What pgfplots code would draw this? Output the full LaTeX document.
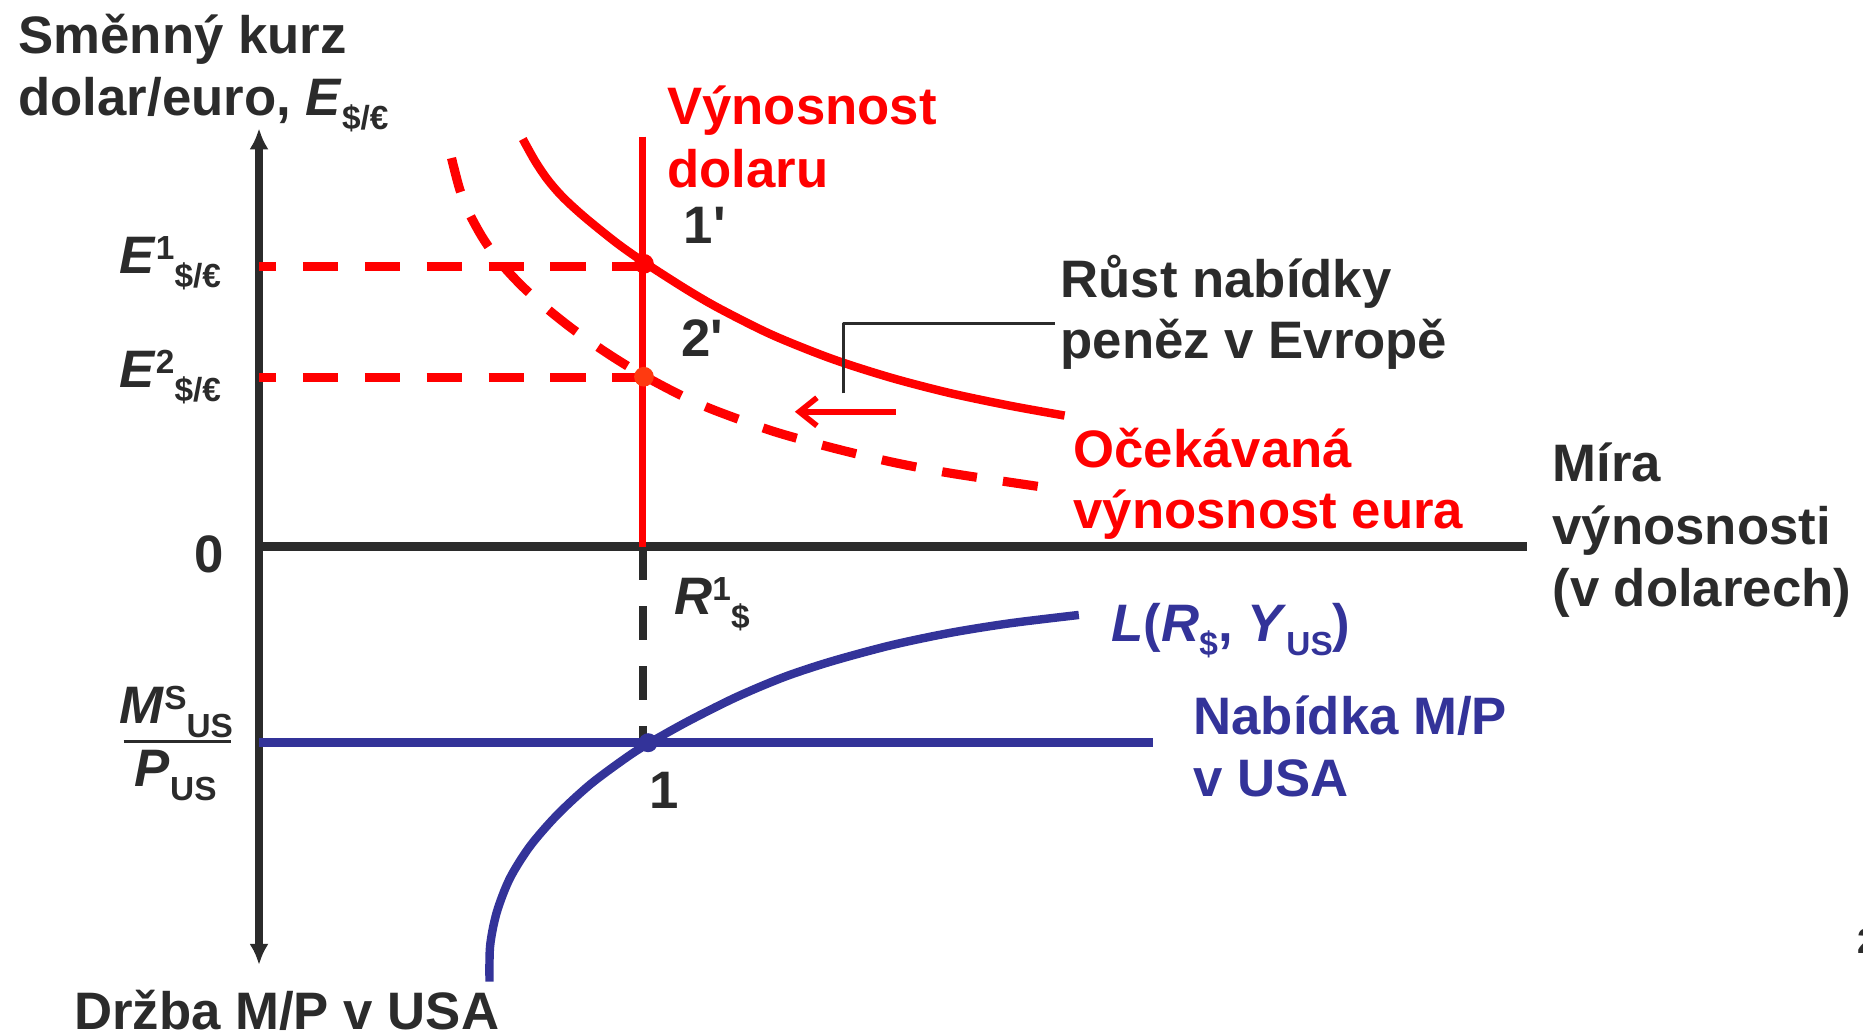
\documentclass[border=0pt]{standalone}
\usepackage{pgfplots}
\pgfplotsset{compat=1.18}
\usepackage{fontspec}
\setmainfont{Liberation Sans}
\usetikzlibrary{arrows.meta}
\definecolor{txt}{HTML}{2B2B2B}
\definecolor{myred}{HTML}{FF0000}
\definecolor{myblue}{HTML}{333399}
\definecolor{dotorange}{HTML}{FF3A10}
\newcommand{\lab}{\fontsize{15}{17.8}\selectfont\bfseries}
\newcommand{\sml}{\fontsize{9.5}{10}\selectfont\bfseries}
\newcommand{\sups}[1]{\raisebox{3.9pt}{\sml #1}}
\newcommand{\subs}[1]{\raisebox{-4pt}{\sml #1}}
\begin{document}
\begin{tikzpicture}
\useasboundingbox (0,0) rectangle (18.63cm,10.35cm);
\begin{axis}[
  scale only axis, width=18.63cm, height=10.35cm,
  xmin=0, xmax=1568, ymin=0, ymax=871, y dir=reverse,
  hide axis, clip=false,
  every axis plot/.append style={line cap=butt, line join=round},
]
% axes
\addplot[txt, line width=2.2pt, {Latex[length=6pt,width=5.5pt]}-{Latex[length=6pt,width=5.5pt]}] coordinates {(218,108) (218,812)};
\addplot[txt, line width=2.4pt] coordinates {(218,460) (1285,460)};
% dashed guides
\addplot[myred, line width=2.5pt, dash pattern=on 10pt off 7.6pt, dash phase=5.1pt] coordinates {(218,224) (541,224)};
\addplot[myred, line width=2.5pt, dash pattern=on 10pt off 7.6pt, dash phase=5.1pt] coordinates {(218,318) (541,318)};
\addplot[txt, line width=2.4pt, dash pattern=on 9.5pt off 7.5pt] coordinates {(541,460) (541,625)};
% dollar return
\addplot[myred, line width=2pt] coordinates {(541,115) (541,460)};
% expected euro return (solid)
\addplot[myred, line width=2.4pt, smooth] coordinates {(440,117) (450,135) (460,150) (470,162) (480,172) (495,185.2) (520,205.2) (543,221.3) (578,243.7) (606,259.9) (650,281.9) (700,301.9) (750,317.9) (800,330.9) (850,341.4) (896,349.7)};
% expected euro return (dashed)
\addplot[myred, line width=2.6pt, smooth, dash pattern=on 10pt off 7.5pt] coordinates {(380,133) (387,159.6) (395,179.6) (405,198.1) (415,213.1) (425,225.6) (440,241.4) (460,259.4) (480,275.4) (500,289.8) (520,303) (543,316.8) (572,332.1) (600,344.7) (650,362.7) (700,376.7) (750,388.7) (800,398.2) (875,409.5)};
% money supply
\addplot[myblue, line width=2.4pt] coordinates {(218,625) (970,625)};
% money demand
\addplot[myblue, line width=2.4pt, smooth] coordinates {(412,826) (412.5,796) (418,768) (429,739.4) (446,712.2) (469,685.7) (497,659.9) (527.5,637.3) (546,625.5) (580,606.5) (620,586.5) (660,569.7) (700,556.5) (750,543) (800,532.5) (850,524.5) (908,517.5)};
% callout and shift arrow
\addplot[txt, line width=0.8pt] coordinates {(710,331) (710,272) (888,272)};
\addplot[myred, line width=1.6pt, -{Straight Barb[length=5pt,width=8pt]}] coordinates {(754,346.5) (669,346.5)};
% points
\addplot[only marks, mark=*, mark size=2.6pt, draw=myred, fill=myred] coordinates {(542,222)};
\addplot[only marks, mark=*, mark size=2.6pt, draw=dotorange, fill=dotorange] coordinates {(542,317)};
\addplot[only marks, mark=*, mark size=2.5pt, draw=myblue, fill=myblue] coordinates {(545.5,625)};
% texts
\begin{scope}[every node/.style={anchor=base west, inner sep=0pt, font=\lab, text=txt}]
\node at (15,45) {Směnný kurz};
\node at (15,97) {dolar/euro, \textit{E}\subs{\$/€}};
\node[text=myred] at (561,105) {Výnosnost};
\node[text=myred] at (561,158) {dolaru};
\node at (575,205) {1\textquotesingle};
\node at (573,300) {2\textquotesingle};
\node at (892,250) {Růst nabídky};
\node at (892,302) {peněz v Evropě};
\node[text=myred] at (903,393) {Očekávaná};
\node[text=myred] at (903,445) {výnosnost eura};
\node at (1306,405) {Míra};
\node at (1306,458) {výnosnosti};
\node at (1306,510) {(v dolarech)};
\node at (163,482) {0};
\node at (100,230) {\textit{E}\sups{1}\subs{\$/€}};
\node at (100,326) {\textit{E}\sups{2}\subs{\$/€}};
\node at (567,517) {\textit{R}\sups{1}\subs{\$}};
\node[text=myblue] at (935,540) {\textit{L}(\textit{R}\subs{\$}, \textit{Y}\subs{US})};
\node[text=myblue] at (1004,618) {Nabídka M/P};
\node[text=myblue] at (1004,670) {v USA};
\node at (546,680) {1};
\node at (100,609) {\textit{M}\raisebox{4pt}{\fontsize{9.5}{10}\selectfont\bfseries S}\subs{US}};
\node at (113,662) {\textit{P}\subs{US}};
\node at (62,866) {Držba M/P v USA};
\node[font=\fontsize{10}{10}\selectfont\bfseries] at (1563,802) {2};
\end{scope}
\draw[txt, line width=1pt] (axis cs:104,624) -- (axis cs:194,624);
\end{axis}
\end{tikzpicture}
\end{document}
